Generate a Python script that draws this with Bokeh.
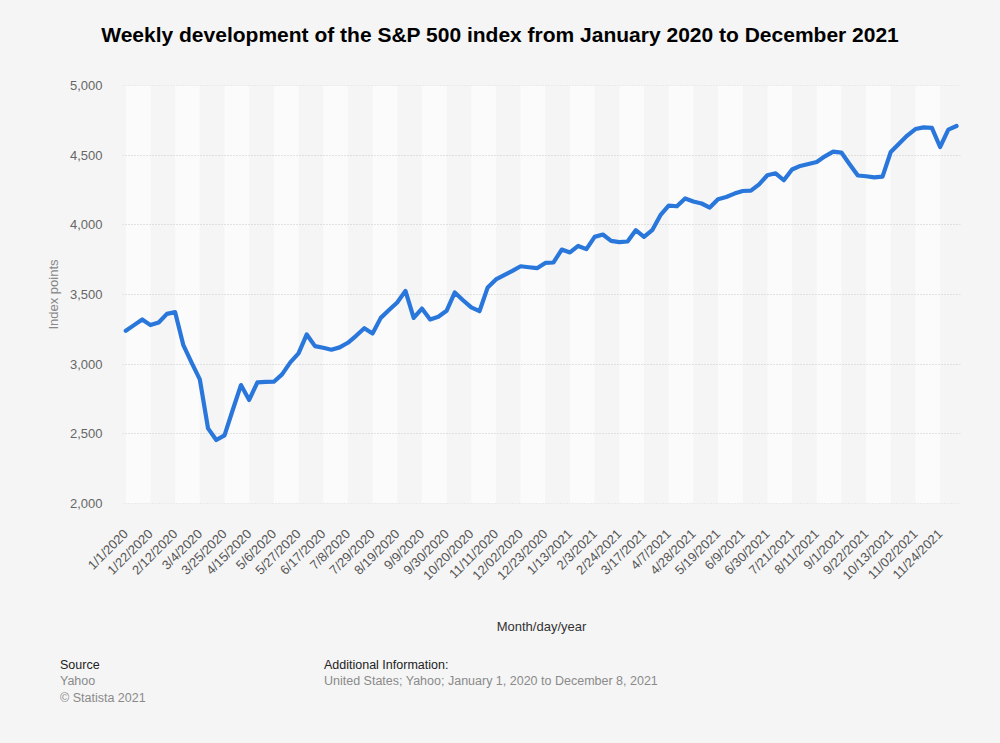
import math
import html
from bokeh.plotting import figure
from bokeh.layouts import column
from bokeh.models import Range1d, FixedTicker, NumeralTickFormatter, Div
from bokeh.embed import file_html
from bokeh.resources import INLINE

# ---------------- data ----------------
weeks = list(range(102))
index_points = [
    3239, 3280, 3321, 3280, 3299, 3361, 3373, 3136, 3010, 2890,
    2538, 2454, 2488, 2670, 2849, 2742, 2869, 2872, 2873, 2926,
    3012, 3077, 3213, 3129, 3117, 3103, 3120, 3153, 3203, 3258,
    3220, 3332, 3388, 3443, 3526, 3332, 3399, 3321, 3340, 3383,
    3515, 3459, 3407, 3380, 3551, 3608, 3639, 3670, 3703, 3696,
    3689, 3727, 3730, 3823, 3802, 3849, 3826, 3914, 3931, 3885,
    3876, 3881, 3962, 3914, 3962, 4070, 4139, 4134, 4190, 4168,
    4154, 4125, 4185, 4201, 4225, 4244, 4246, 4292, 4357, 4371,
    4321, 4398, 4424, 4438, 4452, 4493, 4527, 4520, 4436, 4355,
    4350, 4342, 4347, 4524, 4584, 4642, 4689, 4701, 4697, 4560,
    4685, 4711,
]
x_tick_labels = [
    "1/1/2020", "1/22/2020", "2/12/2020", "3/4/2020", "3/25/2020", "4/15/2020",
    "5/6/2020", "5/27/2020", "6/17/2020", "7/8/2020", "7/29/2020", "8/19/2020",
    "9/9/2020", "9/30/2020", "10/20/2020", "11/11/2020", "12/02/2020", "12/23/2020",
    "1/13/2021", "2/3/2021", "2/24/2021", "3/17/2021", "4/7/2021", "4/28/2021",
    "5/19/2021", "6/9/2021", "6/30/2021", "7/21/2021", "8/11/2021", "9/1/2021",
    "9/22/2021", "10/13/2021", "11/02/2021", "11/24/2021",
]
tick_weeks = weeks[::3]
y_ticks = [2000, 2500, 3000, 3500, 4000, 4500, 5000]

title_text = "Weekly development of the S&P 500 index from January 2020 to December 2021"
y_label = "Index points"
x_label = "Month/day/year"
source_head = "Source"
source_lines = ["Yahoo", "\u00a9 Statista 2021"]
info_head = "Additional Information:"
info_line = "United States; Yahoo; January 1, 2020 to December 8, 2021"

FONT = "Liberation Sans"
BG = "#f5f5f5"
W = 1000
HEAD_H, FOOT_H = 70, 103
MAIN_H = 743 - HEAD_H - FOOT_H
# frame position in page pixels
FL, FR, FT, FB = 122, 960, 85, 503

# ---------------- header ----------------
head = Div(
    text=(f'<div style="width:{W}px;height:{HEAD_H}px;line-height:{HEAD_H}px;'
          f'text-align:center;font-family:\'{FONT}\';font-size:21px;font-weight:bold;'
          f'color:#000;white-space:nowrap;">{html.escape(title_text)}</div>'),
    width=W, height=HEAD_H, margin=0, styles={"background-color": BG},
)

# ---------------- main chart ----------------
p = figure(
    width=W, height=MAIN_H,
    x_range=Range1d(-0.4, 101.48), y_range=Range1d(1998, 5002),
    output_backend="svg", toolbar_location=None,
    min_border_left=FL, min_border_right=W - FR,
    min_border_top=FT - HEAD_H, min_border_bottom=HEAD_H + MAIN_H - FB,
    background_fill_color=BG, border_fill_color=BG,
    outline_line_color=None, margin=0,
)

band_left = tick_weeks[::2]
band_right = tick_weeks[1::2]
p.quad(left=band_left, right=band_right, bottom=y_ticks[0], top=y_ticks[-1],
       fill_color="#fbfbfb", line_color=None, level="image")

p.line(weeks, index_points, line_color="#2a77dc", line_width=4.2,
       line_join="round", line_cap="round")

p.xaxis.ticker = FixedTicker(ticks=tick_weeks)
p.xaxis.major_label_overrides = {w: t for w, t in zip(tick_weeks, x_tick_labels)}
p.xaxis.major_label_orientation = math.pi / 4
p.yaxis.ticker = FixedTicker(ticks=y_ticks)
p.yaxis.formatter = NumeralTickFormatter(format="0,0")
for ax in (p.xaxis[0], p.yaxis[0]):
    ax.axis_line_color = None
    ax.major_tick_line_color = None
    ax.minor_tick_line_color = None
    ax.major_tick_out = 0
    ax.major_tick_in = 0
    ax.minor_tick_out = 0
    ax.minor_tick_in = 0
    ax.major_label_text_font = FONT
    ax.major_label_text_font_size = "13px"
    ax.axis_label_text_font = FONT
    ax.axis_label_text_font_size = "13px"
    ax.axis_label_text_font_style = "normal"
p.xaxis.major_label_text_color = "#555555"
p.yaxis.major_label_text_color = "#666666"
p.xaxis.major_label_standoff = 28
p.yaxis.major_label_standoff = 20
p.xaxis.axis_label = x_label
p.yaxis.axis_label = y_label
p.xaxis.axis_label_text_color = "#333333"
p.yaxis.axis_label_text_color = "#888888"
p.xaxis.axis_label_standoff = 28
p.yaxis.axis_label_standoff = 6

p.xgrid.grid_line_color = None
p.ygrid.ticker = FixedTicker(ticks=y_ticks)
p.ygrid.grid_line_color = "#c9c9c9"
p.ygrid.grid_line_dash = "1 2"
p.ygrid.grid_line_width = 1

# ---------------- footer ----------------
LH = 16.5
FS = "12.5px"


def block(x, top, head_txt, lines):
    rows = [f'<div style="color:#222;">{html.escape(head_txt)}</div>']
    rows += [f'<div style="color:#8a8a8a;">{html.escape(t)}</div>' for t in lines]
    return (f'<div style="position:absolute;left:{x}px;top:{top}px;line-height:{LH}px;'
            f'font-size:{FS};font-family:\'{FONT}\';white-space:nowrap;">' + "".join(rows) + "</div>")


y0 = HEAD_H + MAIN_H
top0 = 665 - y0 - LH / 2
foot = Div(
    text=(f'<div style="position:relative;width:{W}px;height:{FOOT_H}px;">'
          + block(60, top0, source_head, source_lines)
          + block(324, top0, info_head, [info_line])
          + "</div>"),
    width=W, height=FOOT_H, margin=0, styles={"background-color": BG},
)

layout = column(head, p, foot, spacing=0)
template = "{% block preamble %}<style>html,body{background:#f5f5f5;}</style>{% endblock %}"
open("out.html", "w").write(file_html(layout, INLINE, template=template))
